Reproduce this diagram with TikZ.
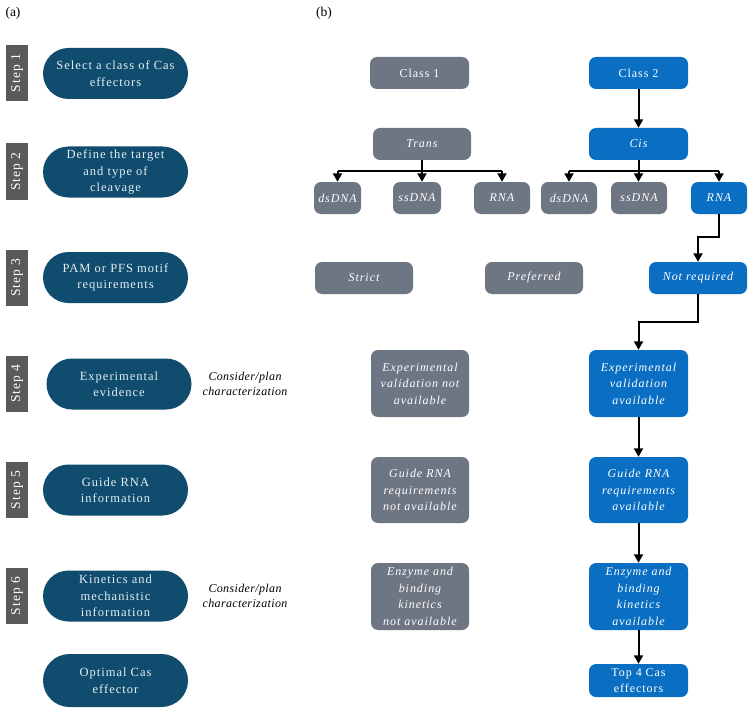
\documentclass[tikz,border=0pt]{standalone}
\usepackage{fontspec}
\setmainfont{Liberation Serif}
\usetikzlibrary{arrows.meta,shapes.misc}
\definecolor{pillc}{HTML}{0F4C6E}
\definecolor{stepc}{HTML}{5A5A5A}
\definecolor{grayb}{HTML}{6F7683}
\definecolor{blueb}{HTML}{0A6FC2}
\definecolor{pilltext}{HTML}{E6EEF4}
\tikzset{
  pill/.style={rounded rectangle, fill=pillc, text=pilltext, minimum width=145pt, minimum height=51pt, inner sep=0pt, align=center, font=\fontsize{12.5}{16.5}\selectfont\addfontfeatures{LetterSpace=8}},
  steplab/.style={rectangle, fill=stepc, text=white, minimum width=56pt, minimum height=22pt, inner sep=0pt, rotate=90, font=\fontsize{13.5}{15}\selectfont\addfontfeatures{LetterSpace=8}},
  gbox/.style={rectangle, rounded corners=7pt, fill=grayb, text=white, inner sep=0pt, align=center, font=\fontsize{12}{16.5}\selectfont\itshape\addfontfeatures{LetterSpace=8}},
  bbox/.style={gbox, fill=blueb},
  upr/.style={font=\fontsize{12}{16.5}\selectfont\addfontfeatures{LetterSpace=8}},
  note/.style={align=center, font=\fontsize{12}{14.5}\selectfont\itshape\addfontfeatures{LetterSpace=3}},
  ln/.style={line width=2pt},
  arr/.style={ln, -{Triangle[length=8.5pt,width=9pt]}},
}
\begin{document}
\begin{tikzpicture}[x=1pt,y=-1pt]
\useasboundingbox (0,0) rectangle (754,714);
\node[font=\fontsize{13.5}{15}\selectfont] (la) at (13,13) {(a)};
\node[font=\fontsize{13.5}{15}\selectfont] (lb) at (324,13) {(b)};
% steps
\node[steplab] (s1) at (17,73) {Step 1};
\node[steplab] (s2) at (17,171.5) {Step 2};
\node[steplab] (s3) at (17,277.5) {Step 3};
\node[steplab] (s4) at (17,383.5) {Step 4};
\node[steplab] (s5) at (17,490) {Step 5};
\node[steplab] (s6) at (17,596) {Step 6};
% pills
\node[pill] (p1) at (115.5,73.5) {Select a class of Cas\\effectors};
\node[pill] (p2) at (115.5,172) {Define the target\\and type of\\cleavage};
\node[pill] (p3) at (115.5,277.5) {PAM or PFS motif\\requirements};
\node[pill] (p4) at (119,384) {Experimental\\evidence};
\node[pill] (p5) at (115.5,490) {Guide RNA\\information};
\node[pill] (p6) at (115.5,596) {Kinetics and\\mechanistic\\information};
\node[pill, minimum height=53pt] (p7) at (115.5,680.5) {Optimal Cas\\effector};
\node[note] (n4) at (245,384) {Consider/plan\\characterization};
\node[note] (n6) at (245,596) {Consider/plan\\characterization};
% right side
\node[gbox, upr, minimum width=99pt, minimum height=32pt] (c1) at (419.5,73) {Class 1};
\node[bbox, upr, minimum width=99pt, minimum height=32pt] (c2) at (638.5,73) {Class 2};
\node[gbox, minimum width=98pt, minimum height=32pt] (tr) at (422,144) {Trans};
\node[bbox, minimum width=99pt, minimum height=32pt] (cis) at (638.5,144) {Cis};
\node[gbox, minimum width=47pt, minimum height=32pt] (ds1) at (337.5,198) {dsDNA};
\node[gbox, minimum width=48pt, minimum height=32pt] (ss1) at (417,198) {ssDNA};
\node[gbox, minimum width=56pt, minimum height=32pt] (rn1) at (502,198) {RNA};
\node[gbox, minimum width=56pt, minimum height=32pt] (ds2) at (569,198) {dsDNA};
\node[gbox, minimum width=56pt, minimum height=32pt] (ss2) at (639,198) {ssDNA};
\node[bbox, minimum width=56pt, minimum height=32pt] (rn2) at (719,198) {RNA};
\node[gbox, minimum width=98pt, minimum height=32pt] (st) at (364,278) {Strict};
\node[gbox, minimum width=98pt, minimum height=32pt] (pr) at (534,278) {Preferred};
\node[bbox, minimum width=98pt, minimum height=32pt] (nr) at (698,278) {Not required};
\node[gbox, minimum width=98pt, minimum height=67pt] (eg) at (420,383.5) {Experimental\\validation not\\available};
\node[bbox, minimum width=99pt, minimum height=67pt] (eb) at (638.5,383.5) {Experimental\\validation\\available};
\node[gbox, minimum width=98pt, minimum height=66pt] (gg) at (420,490) {Guide RNA\\requirements\\not available};
\node[bbox, minimum width=99pt, minimum height=66pt] (gb) at (638.5,490) {Guide RNA\\requirements\\available};
\node[gbox, minimum width=98pt, minimum height=67pt] (kg) at (420,596.5) {Enzyme and\\binding\\kinetics\\not available};
\node[bbox, minimum width=99pt, minimum height=67pt] (kb) at (638.5,596.5) {Enzyme and\\binding\\kinetics\\available};
\node[bbox, upr, minimum width=99pt, minimum height=33pt] (t4) at (638.5,680.5) {Top 4 Cas\\effectors};
% connectors
\draw[ln] (tr.south) -- (tr.south |- 0,171);
\draw[ln] (ds1.north |- 0,171) -- (rn1.north |- 0,171);
\draw[arr] (ds1.north |- 0,171) -- (ds1.north);
\draw[arr] (tr.south |- 0,171) -- (tr.south |- ss1.north);
\draw[arr] (rn1.north |- 0,171) -- (rn1.north);
\draw[arr] (c2.south) -- (cis.north);
\draw[ln] (cis.south) -- (cis.south |- 0,171);
\draw[ln] (ds2.north |- 0,171) -- (rn2.north |- 0,171);
\draw[arr] (ds2.north |- 0,171) -- (ds2.north);
\draw[arr] (cis.south |- 0,171) -- (cis.south |- ss2.north);
\draw[arr] (rn2.north |- 0,171) -- (rn2.north);
\draw[arr] (rn2.south) -- (rn2.south |- 0,237) -| (nr.north);
\draw[arr] (nr.south) -- (nr.south |- 0,322) -| (eb.north);
\draw[arr] (eb.south) -- (gb.north);
\draw[arr] (gb.south) -- (kb.north);
\draw[arr] (kb.south) -- (t4.north);
\end{tikzpicture}
\end{document}
